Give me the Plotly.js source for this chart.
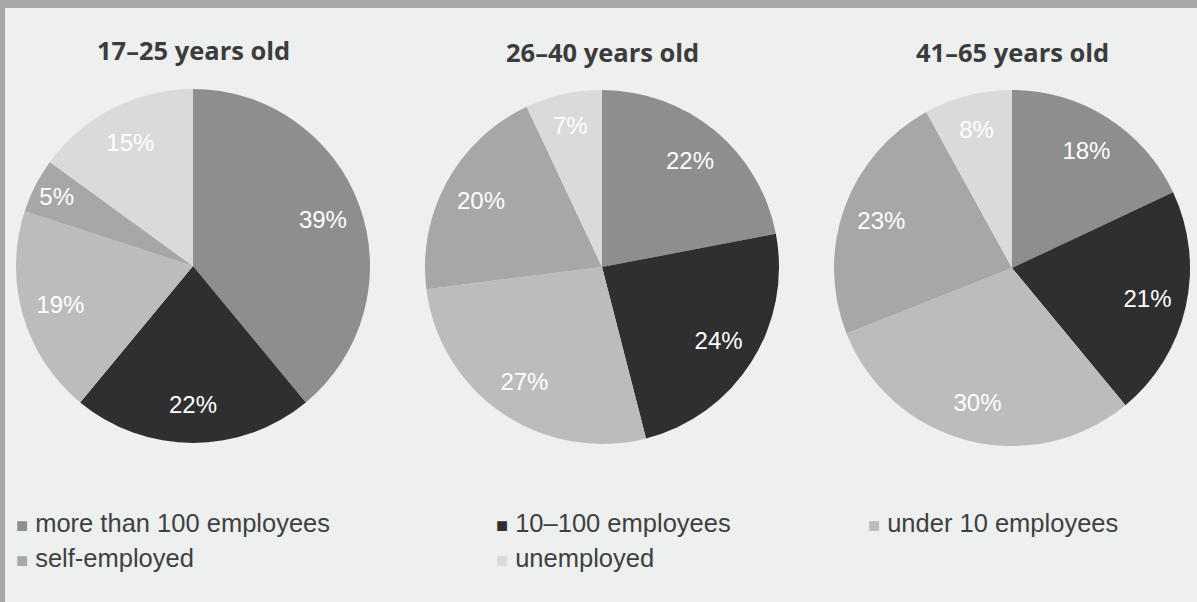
<!DOCTYPE html>
<html>
<head>
<meta charset="utf-8">
<script src="https://cdn.plot.ly/plotly-3.0.1.min.js"></script>
<style>html,body{margin:0;padding:0;background:#eef0ef;}#chart{width:1197px;height:602px;}</style>
</head>
<body>
<div id="chart"></div>
<script>
// Data
const categories = ["more than 100 employees", "10\u2013100 employees", "under 10 employees", "self-employed", "unemployed"];
const groupTitles = ["17\u201325 years old", "26\u201340 years old", "41\u201365 years old"];
const values1725 = [39, 22, 19, 5, 15];
const values2640 = [22, 24, 27, 20, 7];
const values4165 = [18, 21, 30, 23, 8];
const colors = ["#8e8e8e", "#2f2f2f", "#bcbcbc", "#a7a7a7", "#dadada"];

const W = 1197, H = 602;
const groups = [values1725, values2640, values4165];
// pie centres and radii in pixels
const geo = [
  {cx: 193, cy: 266, r: 177},
  {cx: 602, cy: 267, r: 177},
  {cx: 1012, cy: 268, r: 178}
];

function domainOf(g) {
  return {
    x: [(g.cx - g.r) / W, (g.cx + g.r) / W],
    y: [(H - g.cy - g.r) / H, (H - g.cy + g.r) / H]
  };
}

const traces = [];
groups.forEach((vals, i) => {
  const dom = domainOf(geo[i]);
  // filled pie
  traces.push({
    type: "pie",
    labels: categories,
    values: vals,
    sort: false,
    direction: "clockwise",
    rotation: 0,
    marker: {colors: colors, line: {width: 0}},
    textinfo: "none",
    hoverinfo: "label+value",
    showlegend: false,
    domain: dom
  });
  // transparent ring carrying the percentage labels (places them toward the rim)
  traces.push({
    type: "pie",
    labels: categories,
    values: vals,
    sort: false,
    direction: "clockwise",
    rotation: 0,
    hole: 0.56,
    marker: {colors: categories.map(() => "rgba(0,0,0,0)"), line: {width: 0}},
    texttemplate: "%{value}%",
    textposition: "inside",
    insidetextorientation: "horizontal",
    textfont: {family: "Liberation Sans, Arial, sans-serif", size: 24, color: "#ffffff"},
    hoverinfo: "skip",
    showlegend: false,
    domain: dom
  });
});

const annotations = [];
const titleY = [50, 52, 52];
groupTitles.forEach((t, i) => {
  annotations.push({
    text: "<b>" + t + "</b>",
    x: geo[i].cx / W, y: 1 - titleY[i] / H,
    xref: "paper", yref: "paper",
    xanchor: "center", yanchor: "middle",
    showarrow: false,
    font: {family: "Open Sans, Lato, sans-serif", size: 25.5, color: "#3c3c3c"}
  });
});

// legend entries (built from categories/colors)
const legendPos = [[14, 523], [494, 523], [866, 523], [14, 558], [494, 558]];
categories.forEach((c, i) => {
  annotations.push({
    text: "<span style='color:" + colors[i] + ";font-size:20px'>\u25A0</span> " + c,
    x: legendPos[i][0] / W, y: 1 - legendPos[i][1] / H,
    xref: "paper", yref: "paper",
    xanchor: "left", yanchor: "middle",
    showarrow: false,
    font: {family: "Liberation Sans, Arial, sans-serif", size: 25.5, color: "#404040"}
  });
});

const layout = {
  width: W, height: H,
  margin: {l: 0, r: 0, t: 0, b: 0},
  paper_bgcolor: "#a8a8a8",
  showlegend: false,
  shapes: [{
    type: "rect", xref: "paper", yref: "paper",
    x0: 5 / W, x1: 1, y0: 0, y1: 1 - 8 / H,
    fillcolor: "#eef0ef", line: {width: 0}, layer: "below"
  }],
  annotations: annotations
};

Plotly.newPlot("chart", traces, layout, {displayModeBar: false, staticPlot: true});
</script>
</body>
</html>
